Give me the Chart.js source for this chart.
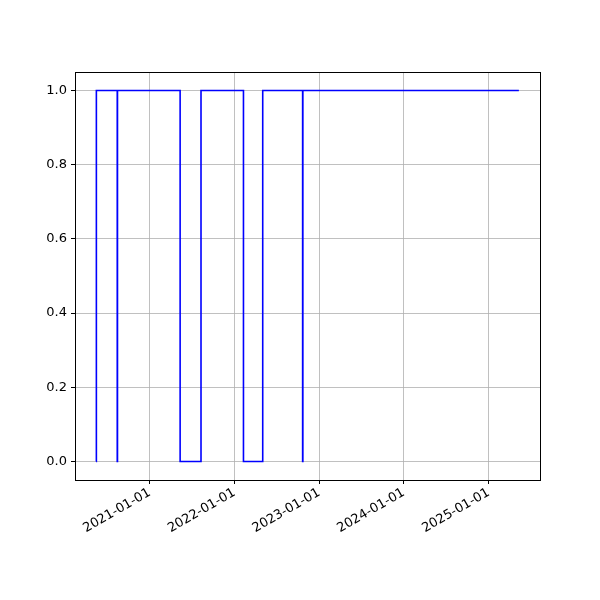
<!DOCTYPE html>
<html>
<head>
<meta charset="utf-8">
<script src="https://cdn.jsdelivr.net/npm/chart.js@4/dist/chart.umd.min.js"></script>
<style>
  html, body { margin: 0; padding: 0; background: #fff; }
  #wrap { width: 600px; height: 600px; }
</style>
</head>
<body>
<div id="wrap"><canvas id="grafico"></canvas></div>
<script>
// step series (steps-post): date and state
const fechas = ['2020-05-15', '2020-05-16', '2020-08-14', '2020-08-15', '2021-05-12', '2021-08-10',
                '2022-02-09', '2022-05-03', '2022-10-22', '2022-10-23', '2025-05-11'];
const estados = [0, 1, 0, 1, 0, 1, 0, 1, 0, 1, 1];
const fechasTicks = ['2021-01-01', '2022-01-01', '2023-01-01', '2024-01-01', '2025-01-01'];
const yTicks = [0.0, 0.2, 0.4, 0.6, 0.8, 1.0];

const dia = s => Date.parse(s + 'T00:00:00Z') / 86400000;
const fmt = d => new Date(Math.round(d) * 86400000).toISOString().slice(0, 10);

const xs = fechas.map(dia);
const span = xs[xs.length - 1] - xs[0];

const marco = {
    id: 'marco',
    afterDraw(chart) {
        const a = chart.chartArea, c = chart.ctx;
        c.save();
        c.strokeStyle = '#000';
        c.lineWidth = 1;
        c.strokeRect(Math.round(a.left) + 0.5, Math.round(a.top) + 0.5,
                     Math.round(a.right - a.left), Math.round(a.bottom - a.top));
        c.restore();
    }
};

const fuente = { family: 'DejaVu Sans', size: 13 };

new Chart(document.getElementById('grafico').getContext('2d'), {
    type: 'line',
    data: {
        datasets: [{
            data: xs.map((x, i) => ({ x: x, y: estados[i] })),
            stepped: 'before',
            borderColor: '#0000ff',
            borderWidth: 1.6,
            pointRadius: 0,
            fill: false
        }]
    },
    options: {
        responsive: true,
        maintainAspectRatio: false,
        animation: false,
        layout: { padding: { top: 72, right: 60, left: 0, bottom: 0 } },
        plugins: { legend: { display: false }, tooltip: { enabled: false } },
        scales: {
            x: {
                type: 'linear',
                min: xs[0] - span * 0.05,
                max: xs[xs.length - 1] + span * 0.05,
                afterBuildTicks: s => { s.ticks = fechasTicks.map(f => ({ value: dia(f) })); },
                afterFit: s => { s.height = 120; },
                ticks: {
                    callback: v => fmt(v),
                    minRotation: 30, maxRotation: 30,
                    color: '#000', font: fuente, padding: 1,
                    autoSkip: false
                },
                grid: { color: '#b0b0b0', lineWidth: 0.8, tickColor: '#000', tickLength: 4, tickWidth: 1 },
                border: { display: false }
            },
            y: {
                min: -0.05, max: 1.05,
                afterBuildTicks: s => { s.ticks = yTicks.map(v => ({ value: v })); },
                afterFit: s => { s.width = 75; },
                ticks: {
                    callback: v => v.toFixed(1),
                    color: '#000', font: fuente, padding: 4
                },
                grid: { color: '#b0b0b0', lineWidth: 0.8, tickColor: '#000', tickLength: 4, tickWidth: 1 },
                border: { display: false }
            }
        }
    },
    plugins: [marco]
});
</script>
</body>
</html>
